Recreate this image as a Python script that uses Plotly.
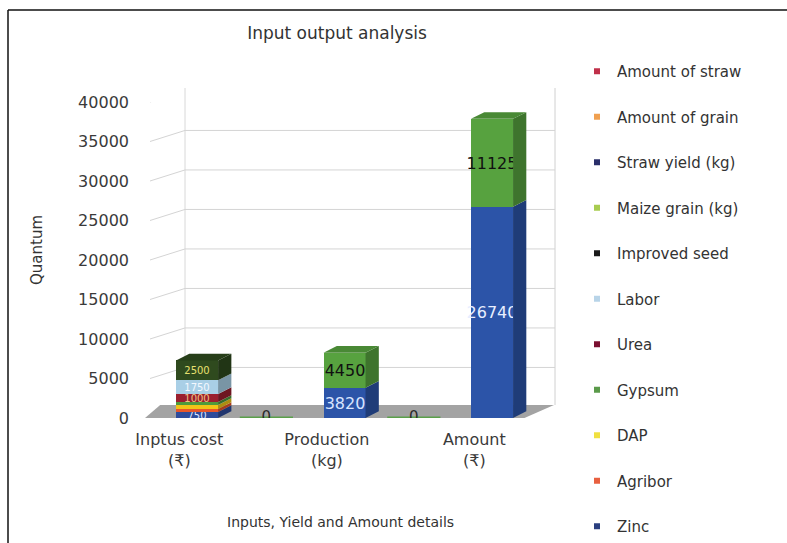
import plotly.graph_objects as go

# ---------------- data ----------------
categories = ["Inptus cost<br>(₹)", "Production<br>(kg)", "Amount<br>(₹)"]

# stacked series, bottom -> top
series_names = ["Zinc", "Agribor", "DAP", "Gypsum", "Urea", "Labor", "Improved seed",
                "Maize grain (kg)", "Straw yield (kg)", "Amount of grain", "Amount of straw"]
zinc = [750, 0, 0]
agribor = [400, 0, 0]
dap = [500, 0, 0]
gypsum = [380, 0, 0]
urea = [1000, 0, 0]
labor = [1750, 0, 0]
improved_seed = [2500, 0, 0]
maize_grain = [0, 3820, 0]
straw_yield = [0, 4450, 0]
amount_grain = [0, 0, 26740]
amount_straw = [0, 0, 11125]
series_values = [zinc, agribor, dap, gypsum, urea, labor, improved_seed,
                 maize_grain, straw_yield, amount_grain, amount_straw]
# which series carry a visible data label
show_label = [True, False, False, False, True, True, True, True, True, True, True]

y_ticks = [0, 5000, 10000, 15000, 20000, 25000, 30000, 35000, 40000]

# colours of the drawn bars (as rendered) and of the legend keys
bar_colors = ["#2e4b9b", "#e8562a", "#f2c417", "#4f9a3c", "#9a1f2e", "#a9cfe6", "#2f4a1e",
              "#2c54a8", "#57a23f", "#2c54a8", "#57a23f"]
label_colors = ["#dfe6ff", "#ffffff", "#333333", "#ffffff", "#f0c080", "#f4f8ff", "#e8e070",
                "#d8e4ff", "#111111", "#e8eeff", "#111111"]
legend_colors = ["#2a3f80", "#e86040", "#f0e040", "#5a9a4a", "#7a1030", "#b8d4e8", "#1a1a1a",
                 "#a8cc50", "#2a2f6a", "#f0a050", "#c0304a"]

# zero-height stacks shown between categories
zero_vals = [0, 0]

# ---------------- styling ----------------
W, H = 787, 543
L, R, T, B = 145, 232, 102, 125
BAR_W = 0.285
DX = 0.09      # depth offset of the 3-D faces (x units)
DY = 850       # depth offset of the 3-D faces (y units)
WALL_DY = 1400  # back wall offset (y units)
FONT = "DejaVu Sans, Liberation Sans, Arial, sans-serif"


def shade(hexc, f):
    h = hexc.lstrip("#")
    r, g, b = (int(h[i:i + 2], 16) for i in (0, 2, 4))
    return "#%02x%02x%02x" % (int(r * f), int(g * f), int(b * f))


x_idx = list(range(len(categories)))
fig = go.Figure()

# front faces (stacked bars)
for name, vals, col, lcol, sl in zip(series_names, series_values, bar_colors, label_colors, show_label):
    fig.add_trace(go.Bar(
        x=x_idx, y=vals, name=name, width=BAR_W,
        marker=dict(color=col, line=dict(width=0)),
        text=[f"{v}" if (v > 0 and sl) else "" for v in vals],
        textposition="inside", insidetextanchor="middle", textangle=0,
        textfont=dict(color=lcol, size=16 if vals[0] == 0 else 10, family=FONT),
        constraintext="none",
        showlegend=False, hoverinfo="x+y+name",
    ))

# side and top faces computed from the stack
tops = [0] * len(x_idx)
top_color = [None] * len(x_idx)
for vals, col in zip(series_values, bar_colors):
    for i, v in enumerate(vals):
        if v <= 0:
            continue
        base = tops[i]
        xr = i + BAR_W / 2
        fig.add_trace(go.Scatter(
            x=[xr, xr + DX, xr + DX, xr, xr],
            y=[base, base + DY, base + v + DY, base + v, base],
            mode="lines", fill="toself", fillcolor=shade(col, 0.72),
            line=dict(width=0), hoverinfo="skip", showlegend=False))
        tops[i] = base + v
        top_color[i] = col
for i, top in enumerate(tops):
    if top <= 0:
        continue
    xl = i - BAR_W / 2
    xr = i + BAR_W / 2
    fig.add_trace(go.Scatter(
        x=[xl, xl + DX, xr + DX, xr, xl],
        y=[top, top + DY, top + DY, top, top],
        mode="lines", fill="toself", fillcolor=shade(top_color[i], 0.85),
        line=dict(width=0), hoverinfo="skip", showlegend=False))

# zero-value stacks
fig.add_trace(go.Scatter(
    x=[i + 0.47 for i in range(len(zero_vals))], y=zero_vals,
    mode="markers+text", text=[str(v) for v in zero_vals],
    textposition="middle center",
    textfont=dict(color="#2a2a2a", size=15, family=FONT),
    marker=dict(symbol="line-ew", size=38, color="#5aa04a", line=dict(color="#5aa04a", width=3)),
    hoverinfo="skip", showlegend=False))

# legend keys (top -> bottom order like the reference)
n = len(series_names)
for k, (name, lc) in enumerate(zip(series_names, legend_colors)):
    fig.add_trace(go.Scatter(
        x=[None], y=[None], mode="markers", name=name,
        marker=dict(symbol="square", size=6, color=lc),
        legendgroup=name, legendrank=n - k, showlegend=True))

plot_w = W - L - R
plot_h = H - T - B


def px_x(p):
    return (p - L) / plot_w


def px_y(p):
    return 1 - (p - T) / plot_h


wall_left = px_x(185)
floor_back = 1650
shapes = [
    dict(type="path", xref="x", yref="y", layer="below",
         path=f"M -0.353 0 L 2.22 0 L 2.42 {floor_back} L -0.25 {floor_back} Z",
         fillcolor="#a3a3a3", line=dict(width=0)),
    # back wall edges
    dict(type="line", xref="paper", yref="paper", x0=1, x1=1, y0=px_y(405), y1=px_y(88),
         line=dict(color="#d0d0d0", width=1), layer="below"),
    dict(type="line", xref="paper", yref="paper", x0=wall_left, x1=wall_left, y0=px_y(405), y1=px_y(88),
         line=dict(color="#d8d8d8", width=1), layer="below"),
    # outer frame (left and top edges)
    dict(type="line", xref="paper", yref="paper", x0=px_x(8), x1=px_x(8), y0=px_y(10), y1=px_y(560),
         line=dict(color="#111111", width=1.5)),
    dict(type="line", xref="paper", yref="paper", x0=px_x(8), x1=px_x(800), y0=px_y(10), y1=px_y(10),
         line=dict(color="#111111", width=1.5)),
]
# back-wall gridlines and their diagonal connectors to the front axis
for v in y_ticks[1:]:
    shapes.append(dict(type="line", xref="paper", yref="y", x0=wall_left, x1=1,
                       y0=v + WALL_DY, y1=v + WALL_DY,
                       line=dict(color="#d4d4d4", width=1), layer="below"))
    shapes.append(dict(type="line", xref="paper", yref="y", x0=px_x(150), x1=wall_left,
                       y0=v, y1=v + WALL_DY, line=dict(color="#d4d4d4", width=1), layer="below"))

fig.update_layout(
    width=W, height=H,
    margin=dict(l=L, r=R, t=T, b=B),
    paper_bgcolor="white", plot_bgcolor="white",
    barmode="stack", bargap=0,
    font=dict(family=FONT, color="#3a3a3a", size=16),
    title=dict(text="Input output analysis", x=337 / W, xanchor="center",
               y=1 - 33 / H, yanchor="middle",
               font=dict(size=17, color="#333333", family=FONT)),
    xaxis=dict(range=[-0.353, 2.427], tickmode="array",
               tickvals=[i - 0.12 for i in x_idx], ticktext=categories,
               showgrid=False, zeroline=False, showline=False, ticks="",
               tickfont=dict(size=16, color="#3a3a3a"), ticklabelstandoff=10),
    yaxis=dict(range=[0, 40000], tickmode="array", tickvals=y_ticks,
               ticktext=[str(v) for v in y_ticks], showgrid=False,
               zeroline=False, showline=False, ticks="",
               tickfont=dict(size=16, color="#3a3a3a"), ticklabelstandoff=15),
    legend=dict(x=px_x(577), xanchor="left", y=px_y(64), yanchor="top",
                traceorder="grouped", tracegroupgap=23, itemwidth=30, maxheight=540,
                font=dict(size=15, color="#333333", family=FONT),
                bgcolor="rgba(0,0,0,0)"),
    shapes=shapes,
    annotations=[
        dict(text="Inputs, Yield and Amount details", xref="paper", yref="paper",
             x=px_x(340), y=px_y(522), showarrow=False, xanchor="center", yanchor="middle",
             font=dict(size=14, color="#333333")),
        dict(text="Quantum", xref="paper", yref="paper", textangle=-90,
             x=px_x(37), y=px_y(250), showarrow=False, xanchor="center", yanchor="middle",
             font=dict(size=15, color="#333333")),
    ],
)

fig.write_html("out.html")
